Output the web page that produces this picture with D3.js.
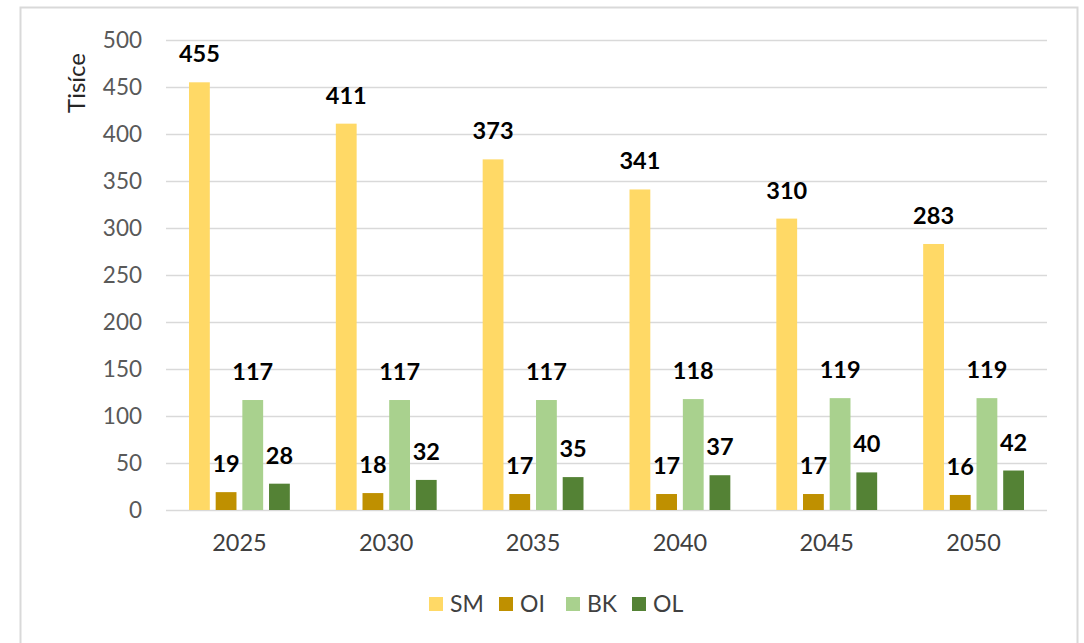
<!DOCTYPE html>
<html>
<head>
<meta charset="utf-8">
<script src="https://cdnjs.cloudflare.com/ajax/libs/d3/7.8.5/d3.min.js"></script>
<style>
    body { margin: 0; background: #fff; }
    svg text { font-family: Lato, "Open Sans", sans-serif; }
</style>
</head>
<body>
<div id="chart"></div>
<script>
'use strict';

var years = ['2025', '2030', '2035', '2040', '2045', '2050'];
var seriesNames = ['SM', 'OI', 'BK', 'OL'];
var smValues = [455, 411, 373, 341, 310, 283];
var oiValues = [19, 18, 17, 17, 17, 16];
var bkValues = [117, 117, 117, 118, 119, 119];
var olValues = [28, 32, 35, 37, 40, 42];
var yTicks = [0, 50, 100, 150, 200, 250, 300, 350, 400, 450, 500];
var axisTitle = 'Tisíce';

var width = 1084,
    height = 643,
    color = {SM: '#ffd966', OI: '#bf9000', BK: '#a9d18e', OL: '#548235'},
    values = {SM: smValues, OI: oiValues, BK: bkValues, OL: olValues},
    margin = {
        top: 40,
        right: 37,
        bottom: 133,
        left: 166
    };

var svg = d3.select('#chart').append('svg')
    .attr('width', width)
    .attr('height', height);

//outer frame, bottom edge runs off the page
svg.append('rect')
    .attr('x', 20.5)
    .attr('y', 7.5)
    .attr('width', 1057)
    .attr('height', 700)
    .attr('fill', 'none')
    .attr('stroke', '#d9d9d9')
    .attr('stroke-width', 2);

var x = d3.scaleBand()
    .domain(years)
    .range([margin.left, width - margin.right]);

var x1 = d3.scaleBand()
    .domain(seriesNames)
    .range([23, x.bandwidth() - 23])
    .paddingInner(0.22);

var y = d3.scaleLinear()
    .domain([0, 500])
    .range([height - margin.bottom, margin.top]);

//gridlines + tick labels
var yAxis = svg.append('g')
    .attr('transform', 'translate(' + margin.left + ',0)')
    .call(d3.axisLeft(y)
        .tickValues(yTicks)
        .tickSize(-(width - margin.left - margin.right))
        .tickPadding(24));

yAxis.select('.domain').remove();
yAxis.selectAll('.tick line')
    .attr('stroke', '#d9d9d9')
    .attr('stroke-width', 1.5);
yAxis.selectAll('.tick text')
    .attr('fill', '#595959')
    .style('font-size', '22.5px');

svg.append('text')
    .attr('transform', 'translate(85,83) rotate(-90)')
    .attr('text-anchor', 'middle')
    .attr('fill', '#262626')
    .style('font-size', '24px')
    .text(axisTitle);

//x labels
var xAxis = svg.append('g')
    .attr('transform', 'translate(0,' + (height - margin.bottom) + ')')
    .call(d3.axisBottom(x).tickSize(0).tickPadding(24));

xAxis.select('.domain').remove();
xAxis.selectAll('.tick text')
    .attr('fill', '#404040')
    .style('font-size', '23.5px');

var groups = svg.append('g')
    .selectAll('.year')
    .data(years)
    .enter().append('g')
    .attr('class', 'year')
    .attr('transform', function(d) {
        return 'translate(' + x(d) + ',0)';
    });

var cells = groups.selectAll('.cell')
    .data(function(d, i) {
        return seriesNames.map(function(s) {
            return {key: s, value: values[s][i]};
        });
    })
    .enter().append('g')
    .attr('class', 'cell');

cells.append('rect')
    .attr('x', function(d) { return x1(d.key); })
    .attr('y', function(d) { return y(d.value); })
    .attr('width', x1.bandwidth())
    .attr('height', function(d) { return y(0) - y(d.value); })
    .attr('fill', function(d) { return color[d.key]; });

cells.append('text')
    .attr('x', function(d) { return x1(d.key) + x1.bandwidth() / 2; })
    .attr('y', function(d) { return y(d.value) - 20; })
    .attr('text-anchor', 'middle')
    .attr('fill', '#000')
    .style('font-size', '23.5px')
    .style('font-weight', 'bold')
    .text(function(d) { return d.value; });

//legend
var legendX = [429, 499, 566, 632];
var legend = svg.append('g')
    .selectAll('.legend')
    .data(seriesNames)
    .enter().append('g')
    .attr('class', 'legend')
    .attr('transform', function(d, i) {
        return 'translate(' + legendX[i] + ',597)';
    });

legend.append('rect')
    .attr('width', 14)
    .attr('height', 14)
    .attr('fill', function(d) { return color[d]; });

legend.append('text')
    .attr('x', 21)
    .attr('y', 15)
    .attr('fill', '#404040')
    .style('font-size', '23px')
    .text(function(d) { return d; });
</script>
</body>
</html>
